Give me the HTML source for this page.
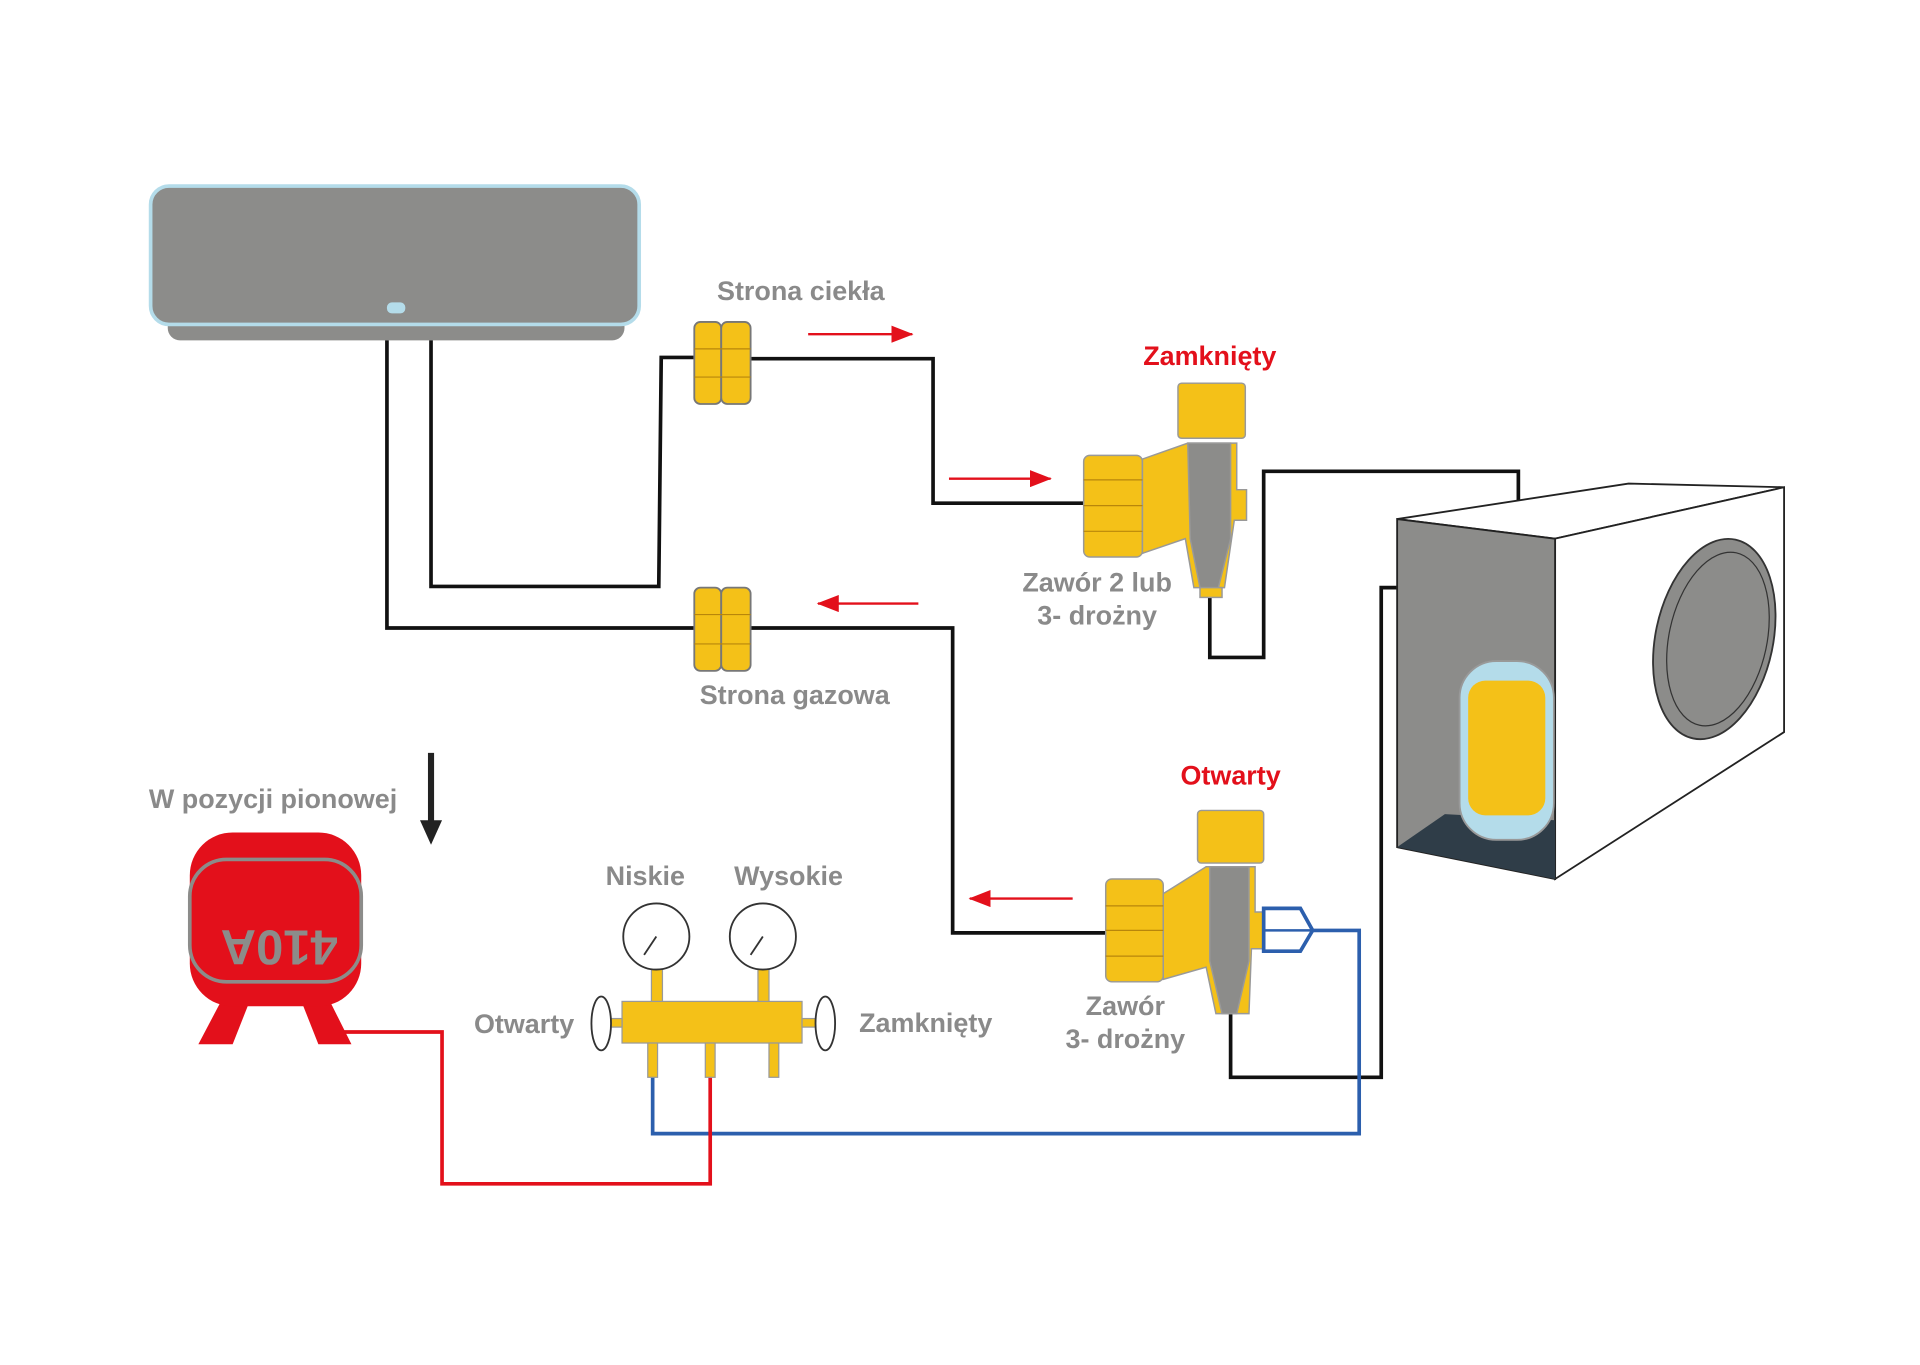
<!DOCTYPE html>
<html><head><meta charset="utf-8"><style>
html,body{margin:0;padding:0;background:#fff;}
svg{display:block;}
text{font-family:"Liberation Sans",sans-serif;font-weight:bold;}
</style></head><body>
<svg width="1920" height="1365" viewBox="0 0 1568 1115" preserveAspectRatio="none" xmlns="http://www.w3.org/2000/svg">
<defs>
<marker id="ar" markerWidth="18" markerHeight="14" refX="17" refY="7" orient="auto" markerUnits="userSpaceOnUse"><path d="M0,0 L18,7 L0,14 z" fill="#e3101b"/></marker>
</defs>
<rect width="1568" height="1115" fill="#fff"/>
<rect x="137" y="250" width="373" height="28" rx="10" fill="#8c8c8a"/>
<rect x="123" y="152" width="399" height="113" rx="15" fill="#8c8c8a" stroke="#b4dcea" stroke-width="3"/>
<rect x="316" y="247" width="15" height="9" rx="4" fill="#b4dcea"/>
<g fill="none" stroke="#111" stroke-width="3">
<polyline points="316,278 316,513 567,513"/>
<polyline points="352,278 352,479 538,479 540,292 567,292"/>
<polyline points="613,293 762,293 762,411 885,411"/>
<polyline points="613,513 778,513 778,762 903,762"/>
<polyline points="988,480 988,537 1032,537 1032,385 1240,385 1240,493"/>
<polyline points="1005,828 1005,880 1128,880 1128,480 1213,480 1213,545"/>
</g>
<polyline points="1072,760 1110,760 1110,926 533,926 533,880" fill="none" stroke="#2c5fad" stroke-width="3"/>
<polyline points="580,880 580,967 361,967 361,843 280,843" fill="none" stroke="#e3101b" stroke-width="3"/>
<g fill="#f4c118" stroke="#777" stroke-width="1.5">
<rect x="567" y="263" width="22" height="67" rx="5"/><rect x="589" y="263" width="24" height="67" rx="5"/>
<rect x="567" y="480" width="22" height="68" rx="5"/><rect x="589" y="480" width="24" height="68" rx="5"/>
</g>
<g stroke="#b8860b" stroke-width="1"><line x1="567" y1="285" x2="613" y2="285"/><line x1="567" y1="308" x2="613" y2="308"/><line x1="567" y1="502" x2="613" y2="502"/><line x1="567" y1="526" x2="613" y2="526"/></g>
<g stroke="#e3101b" stroke-width="2" marker-end="url(#ar)">
<line x1="660" y1="273" x2="745" y2="273"/><line x1="775" y1="391" x2="858" y2="391"/>
<line x1="750" y1="493" x2="668" y2="493"/><line x1="876" y1="734" x2="792" y2="734"/>
</g>
<g stroke="#999" stroke-width="1.2">
<rect x="885" y="372" width="48" height="83" rx="5" fill="#f4c118"/>
<path d="M933,375 L970,362 L1010,362 L1010,400 L1018,400 L1018,425 L1008,425 L1000,480 L975,480 L968,440 L933,452 Z" fill="#f4c118"/>
<rect x="962" y="313" width="55" height="45" rx="3" fill="#f4c118"/>
<path d="M970,362 L1005,362 L1005,440 L995,480 L980,480 L972,440 Z" fill="#8c8c8a"/>
<rect x="980" y="480" width="18" height="8" fill="#f4c118"/>
</g>
<g stroke="#b8860b"><line x1="885" y1="392" x2="933" y2="392"/><line x1="885" y1="413" x2="933" y2="413"/><line x1="885" y1="434" x2="933" y2="434"/></g>
<g stroke="#999" stroke-width="1.2">
<rect x="903" y="718" width="47" height="84" rx="5" fill="#f4c118"/>
<path d="M950,730 L985,708 L1025,708 L1025,745 L1035,745 L1035,775 L1022,775 L1020,828 L993,828 L985,790 L950,800 Z" fill="#f4c118"/>
<rect x="978" y="662" width="54" height="43" rx="3" fill="#f4c118"/>
<path d="M988,708 L1020,708 L1020,785 L1010,828 L998,828 L988,785 Z" fill="#8c8c8a"/>
</g>
<g stroke="#b8860b"><line x1="903" y1="740" x2="950" y2="740"/><line x1="903" y1="760" x2="950" y2="760"/><line x1="903" y1="781" x2="950" y2="781"/></g>
<path d="M1032,742 L1062,742 L1072,760 L1062,777 L1032,777 Z" fill="#fff" stroke="#2c5fad" stroke-width="3"/>
<line x1="1032" y1="760" x2="1072" y2="760" stroke="#2c5fad" stroke-width="2"/>
<polygon points="1141,424 1330,395 1457,398 1270,440" fill="#fff" stroke="#222" stroke-width="1.5"/>
<polygon points="1270,440 1457,398 1457,598 1270,718" fill="#fff" stroke="#222" stroke-width="1.5"/>
<polygon points="1141,424 1270,440 1270,718 1141,692" fill="#8c8c8a" stroke="#222" stroke-width="1.5"/>
<polygon points="1141,692 1180,665 1270,670 1270,718" fill="#2f3d48"/>
<ellipse cx="1400" cy="522" rx="48" ry="83" fill="#8c8c8a" stroke="#333" stroke-width="1.5" transform="rotate(12 1400 522)"/>
<ellipse cx="1403" cy="522" rx="40" ry="72" fill="none" stroke="#333" stroke-width="1" transform="rotate(12 1403 522)"/>
<rect x="1192" y="540" width="77" height="146" rx="30" fill="#b4dcea" stroke="#999" stroke-width="1.5"/>
<rect x="1199" y="556" width="63" height="110" rx="14" fill="#f4c118"/>
<g stroke="#999" stroke-width="1">
<rect x="532" y="790" width="9" height="30" fill="#f4c118"/><rect x="619" y="790" width="9" height="30" fill="#f4c118"/>
<rect x="508" y="818" width="147" height="34" fill="#f4c118"/>
<rect x="529" y="852" width="8" height="28" fill="#f4c118"/><rect x="576" y="852" width="8" height="28" fill="#f4c118"/><rect x="628" y="852" width="8" height="28" fill="#f4c118"/>
<rect x="496" y="832" width="12" height="7" fill="#f4c118"/><rect x="655" y="832" width="12" height="7" fill="#f4c118"/>
</g>
<g fill="#fff" stroke="#333" stroke-width="1.5">
<ellipse cx="491" cy="836" rx="8" ry="22"/><ellipse cx="674" cy="836" rx="8" ry="22"/>
<circle cx="536" cy="765" r="27"/><circle cx="623" cy="765" r="27"/>
</g>
<line x1="536" y1="765" x2="526" y2="780" stroke="#333" stroke-width="1.5"/>
<line x1="623" y1="765" x2="613" y2="780" stroke="#333" stroke-width="1.5"/>
<polygon points="182,815 162,853 190,853 205,815" fill="#e3101b"/>
<polygon points="245,815 260,853 287,853 268,815" fill="#e3101b"/>
<rect x="155" y="680" width="140" height="142" rx="35" fill="#e3101b"/>
<rect x="155" y="702" width="140" height="100" rx="30" fill="none" stroke="#8c8c8a" stroke-width="3"/>
<text x="228" y="760" font-size="40" fill="#8c8c8a" text-anchor="middle" transform="rotate(180 228 760)">410A</text>
<line x1="352" y1="615" x2="352" y2="672" stroke="#222" stroke-width="5"/>
<polygon points="343,670 361,670 352,690" fill="#222"/>
<g font-size="22" fill="#8a8a8a" text-anchor="middle">
<text x="654" y="245">Strona ciekła</text>
<text x="649" y="575">Strona gazowa</text>
<text x="896" y="483">Zawór 2 lub</text>
<text x="896" y="510">3- drożny</text>
<text x="919" y="829">Zawór</text>
<text x="919" y="856">3- drożny</text>
<text x="223" y="660">W pozycji pionowej</text>
<text x="527" y="723">Niskie</text>
<text x="644" y="723">Wysokie</text>
<text x="428" y="844">Otwarty</text>
<text x="756" y="843">Zamknięty</text>
</g>
<g font-size="22" fill="#e3101b" text-anchor="middle">
<text x="988" y="298">Zamknięty</text>
<text x="1005" y="641">Otwarty</text>
</g>
</svg>
</body></html>
